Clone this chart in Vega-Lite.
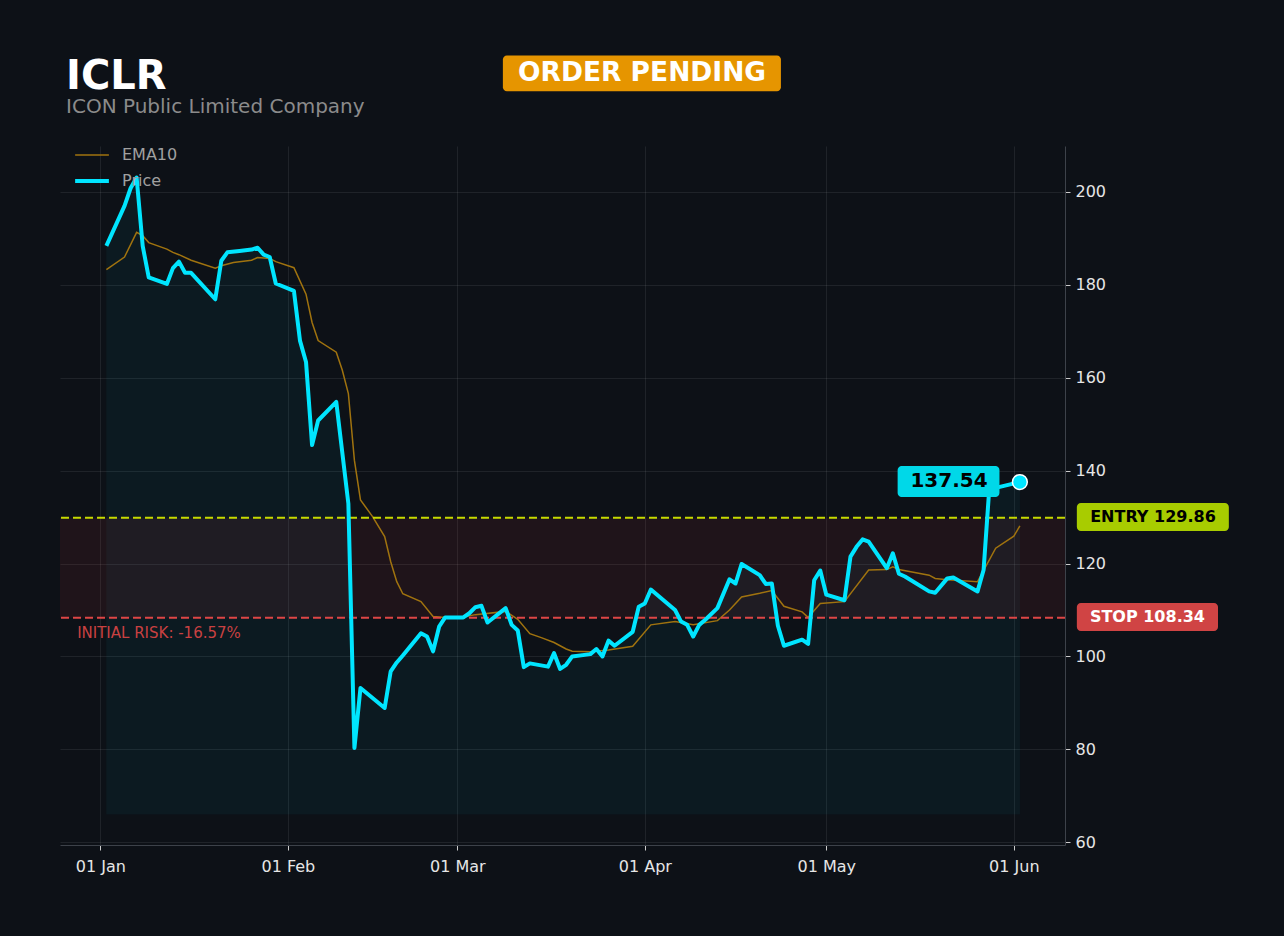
{
  "$schema": "https://vega.github.io/schema/vega-lite/v6.json",
  "width": 1005,
  "height": 699,
  "autosize": {"type": "none"},
  "padding": {"left": 60, "top": 146, "right": 219, "bottom": 91},
  "background": "#0d1117",
  "config": {
    "view": {"stroke": null},
    "font": "DejaVu Sans",
    "axis": {
      "labelFont": "DejaVu Sans",
      "labelFontSize": 16,
      "labelColor": "#e6e6e6",
      "ticks": true,
      "tickColor": "#cccccc",
      "tickSize": 5,
      "tickWidth": 1,
      "domainColor": "#3d424a",
      "grid": true,
      "gridColor": "#ffffff",
      "gridOpacity": 0.08
    }
  },
  "datasets": {
    "price": [
      {"date": "2025-01-02T00:00", "price": 188.4},
      {"date": "2025-01-05T00:00", "price": 197.0},
      {"date": "2025-01-06T00:00", "price": 200.8},
      {"date": "2025-01-07T00:00", "price": 203.1},
      {"date": "2025-01-08T00:00", "price": 188.4},
      {"date": "2025-01-09T00:00", "price": 181.6},
      {"date": "2025-01-12T00:00", "price": 180.2},
      {"date": "2025-01-13T00:00", "price": 183.6},
      {"date": "2025-01-14T00:00", "price": 185.0},
      {"date": "2025-01-15T00:00", "price": 182.6},
      {"date": "2025-01-16T00:00", "price": 182.6},
      {"date": "2025-01-20T00:00", "price": 176.9},
      {"date": "2025-01-21T00:00", "price": 185.2},
      {"date": "2025-01-22T00:00", "price": 187.0},
      {"date": "2025-01-24T00:00", "price": 187.3},
      {"date": "2025-01-26T00:00", "price": 187.6},
      {"date": "2025-01-27T00:00", "price": 188.0},
      {"date": "2025-01-28T00:00", "price": 186.5},
      {"date": "2025-01-29T00:00", "price": 186.0},
      {"date": "2025-01-30T00:00", "price": 180.3},
      {"date": "2025-02-02T00:00", "price": 178.7},
      {"date": "2025-02-03T00:00", "price": 168.0},
      {"date": "2025-02-04T00:00", "price": 163.4},
      {"date": "2025-02-05T00:00", "price": 145.5},
      {"date": "2025-02-06T00:00", "price": 150.8},
      {"date": "2025-02-09T00:00", "price": 154.8},
      {"date": "2025-02-11T00:00", "price": 132.9},
      {"date": "2025-02-12T00:00", "price": 80.3},
      {"date": "2025-02-13T00:00", "price": 93.2},
      {"date": "2025-02-17T00:00", "price": 88.9},
      {"date": "2025-02-18T00:00", "price": 96.8},
      {"date": "2025-02-19T00:00", "price": 98.7},
      {"date": "2025-02-20T00:00", "price": 100.2},
      {"date": "2025-02-23T00:00", "price": 105.0},
      {"date": "2025-02-24T00:00", "price": 104.3},
      {"date": "2025-02-25T00:00", "price": 101.1},
      {"date": "2025-02-26T00:00", "price": 106.4},
      {"date": "2025-02-27T00:00", "price": 108.4},
      {"date": "2025-03-02T00:00", "price": 108.4},
      {"date": "2025-03-03T00:00", "price": 109.3},
      {"date": "2025-03-04T00:00", "price": 110.6},
      {"date": "2025-03-05T00:00", "price": 110.9},
      {"date": "2025-03-06T00:00", "price": 107.3},
      {"date": "2025-03-09T00:00", "price": 110.4},
      {"date": "2025-03-10T00:00", "price": 106.8},
      {"date": "2025-03-11T00:00", "price": 105.6},
      {"date": "2025-03-12T00:00", "price": 97.7},
      {"date": "2025-03-13T00:00", "price": 98.5},
      {"date": "2025-03-16T00:00", "price": 97.8},
      {"date": "2025-03-17T00:00", "price": 100.7},
      {"date": "2025-03-18T00:00", "price": 97.3},
      {"date": "2025-03-19T00:00", "price": 98.2},
      {"date": "2025-03-20T00:00", "price": 100.0},
      {"date": "2025-03-23T00:00", "price": 100.5},
      {"date": "2025-03-24T00:00", "price": 101.6},
      {"date": "2025-03-25T00:00", "price": 100.0},
      {"date": "2025-03-26T00:00", "price": 103.4},
      {"date": "2025-03-27T00:00", "price": 102.3},
      {"date": "2025-03-30T00:00", "price": 105.3},
      {"date": "2025-03-31T00:00", "price": 110.7},
      {"date": "2025-04-01T00:00", "price": 111.4},
      {"date": "2025-04-02T00:00", "price": 114.4},
      {"date": "2025-04-06T00:00", "price": 110.0},
      {"date": "2025-04-07T00:00", "price": 107.5},
      {"date": "2025-04-08T00:00", "price": 106.8},
      {"date": "2025-04-09T00:00", "price": 104.3},
      {"date": "2025-04-10T00:00", "price": 106.8},
      {"date": "2025-04-11T00:00", "price": 107.9},
      {"date": "2025-04-13T00:00", "price": 110.4},
      {"date": "2025-04-15T00:00", "price": 116.6},
      {"date": "2025-04-16T00:00", "price": 115.7},
      {"date": "2025-04-17T00:00", "price": 119.9},
      {"date": "2025-04-20T00:00", "price": 117.5},
      {"date": "2025-04-21T00:00", "price": 115.6},
      {"date": "2025-04-22T00:00", "price": 115.7},
      {"date": "2025-04-23T00:00", "price": 106.6},
      {"date": "2025-04-24T00:00", "price": 102.3},
      {"date": "2025-04-27T00:00", "price": 103.6},
      {"date": "2025-04-28T00:00", "price": 102.7},
      {"date": "2025-04-29T00:00", "price": 116.4},
      {"date": "2025-04-30T00:00", "price": 118.5},
      {"date": "2025-05-01T00:00", "price": 113.3},
      {"date": "2025-05-04T00:00", "price": 112.1},
      {"date": "2025-05-05T00:00", "price": 121.5},
      {"date": "2025-05-06T00:00", "price": 123.6},
      {"date": "2025-05-07T00:00", "price": 125.2},
      {"date": "2025-05-08T00:00", "price": 124.7},
      {"date": "2025-05-11T00:00", "price": 119.0},
      {"date": "2025-05-12T00:00", "price": 122.2},
      {"date": "2025-05-13T00:00", "price": 117.8},
      {"date": "2025-05-14T00:00", "price": 117.2},
      {"date": "2025-05-18T00:00", "price": 114.0},
      {"date": "2025-05-19T00:00", "price": 113.7},
      {"date": "2025-05-21T00:00", "price": 116.8},
      {"date": "2025-05-22T00:00", "price": 117.0},
      {"date": "2025-05-26T00:00", "price": 114.0},
      {"date": "2025-05-27T00:00", "price": 118.6},
      {"date": "2025-05-28T00:00", "price": 137.2},
      {"date": "2025-05-29T00:00", "price": 136.3},
      {"date": "2025-06-02T00:00", "price": 137.54}
    ],
    "ema": [
      {"date": "2025-01-02T00:00", "ema": 183.3},
      {"date": "2025-01-05T00:00", "ema": 186.0},
      {"date": "2025-01-07T00:00", "ema": 191.3},
      {"date": "2025-01-08T00:00", "ema": 190.6},
      {"date": "2025-01-09T00:00", "ema": 189.1},
      {"date": "2025-01-12T00:00", "ema": 187.7},
      {"date": "2025-01-13T00:00", "ema": 187.0},
      {"date": "2025-01-14T00:00", "ema": 186.5},
      {"date": "2025-01-16T00:00", "ema": 185.3},
      {"date": "2025-01-20T00:00", "ema": 183.6},
      {"date": "2025-01-21T00:00", "ema": 184.1},
      {"date": "2025-01-23T00:00", "ema": 184.8},
      {"date": "2025-01-26T00:00", "ema": 185.3},
      {"date": "2025-01-27T00:00", "ema": 185.9},
      {"date": "2025-01-29T00:00", "ema": 185.7},
      {"date": "2025-01-30T00:00", "ema": 185.0},
      {"date": "2025-02-02T00:00", "ema": 183.7},
      {"date": "2025-02-04T00:00", "ema": 178.0},
      {"date": "2025-02-05T00:00", "ema": 171.9},
      {"date": "2025-02-06T00:00", "ema": 168.0},
      {"date": "2025-02-09T00:00", "ema": 165.5},
      {"date": "2025-02-10T00:00", "ema": 161.6},
      {"date": "2025-02-11T00:00", "ema": 156.6},
      {"date": "2025-02-12T00:00", "ema": 142.2},
      {"date": "2025-02-13T00:00", "ema": 133.7},
      {"date": "2025-02-15T00:00", "ema": 130.1},
      {"date": "2025-02-17T00:00", "ema": 125.8},
      {"date": "2025-02-18T00:00", "ema": 120.4},
      {"date": "2025-02-19T00:00", "ema": 116.1},
      {"date": "2025-02-20T00:00", "ema": 113.5},
      {"date": "2025-02-23T00:00", "ema": 111.8},
      {"date": "2025-02-25T00:00", "ema": 108.6},
      {"date": "2025-02-27T00:00", "ema": 108.4},
      {"date": "2025-03-02T00:00", "ema": 108.5},
      {"date": "2025-03-04T00:00", "ema": 109.0},
      {"date": "2025-03-09T00:00", "ema": 109.7},
      {"date": "2025-03-11T00:00", "ema": 108.0},
      {"date": "2025-03-13T00:00", "ema": 104.9},
      {"date": "2025-03-15T00:00", "ema": 104.0},
      {"date": "2025-03-17T00:00", "ema": 103.0},
      {"date": "2025-03-19T00:00", "ema": 101.6},
      {"date": "2025-03-20T00:00", "ema": 101.1},
      {"date": "2025-03-23T00:00", "ema": 101.0},
      {"date": "2025-03-26T00:00", "ema": 101.4},
      {"date": "2025-03-30T00:00", "ema": 102.2},
      {"date": "2025-04-02T00:00", "ema": 106.8},
      {"date": "2025-04-06T00:00", "ema": 107.5},
      {"date": "2025-04-09T00:00", "ema": 106.8},
      {"date": "2025-04-13T00:00", "ema": 107.7},
      {"date": "2025-04-15T00:00", "ema": 110.0},
      {"date": "2025-04-17T00:00", "ema": 112.8},
      {"date": "2025-04-20T00:00", "ema": 113.6},
      {"date": "2025-04-22T00:00", "ema": 114.2},
      {"date": "2025-04-24T00:00", "ema": 110.8},
      {"date": "2025-04-27T00:00", "ema": 109.6},
      {"date": "2025-04-28T00:00", "ema": 108.4},
      {"date": "2025-04-30T00:00", "ema": 111.4},
      {"date": "2025-05-04T00:00", "ema": 111.8},
      {"date": "2025-05-08T00:00", "ema": 118.6},
      {"date": "2025-05-11T00:00", "ema": 118.7},
      {"date": "2025-05-12T00:00", "ema": 119.3},
      {"date": "2025-05-13T00:00", "ema": 118.7},
      {"date": "2025-05-18T00:00", "ema": 117.5},
      {"date": "2025-05-19T00:00", "ema": 116.8},
      {"date": "2025-05-21T00:00", "ema": 116.5},
      {"date": "2025-05-26T00:00", "ema": 116.1},
      {"date": "2025-05-29T00:00", "ema": 123.3},
      {"date": "2025-06-01T00:00", "ema": 125.9},
      {"date": "2025-06-02T00:00", "ema": 128.1}
    ],
    "one": [{}]
  },
  "layer": [
    {
      "data": {"name": "price"},
      "mark": {"type": "area", "color": "#00e5ff", "opacity": 0.045, "stroke": "#00e5ff", "strokeOpacity": 0.08, "strokeWidth": 1},
      "encoding": {
        "x": {
          "field": "date",
          "type": "temporal",
          "scale": {
            "domain": [
              {"year": 2024, "month": 12, "date": 25, "hours": 8},
              {"year": 2025, "month": 6, "date": 9, "hours": 11}
            ],
            "nice": false
          },
          "axis": {
            "title": null,
            "format": "%d %b",
            "tickCount": {"interval": "month", "step": 1},
            "labelFlush": false,
            "labelPadding": 8
          }
        },
        "y": {
          "field": "price",
          "type": "quantitative",
          "scale": {"domain": [59.4, 209.9], "nice": false, "zero": false},
          "axis": {
            "title": null,
            "orient": "right",
            "values": [60, 80, 100, 120, 140, 160, 180, 200],
            "labelPadding": 5
          }
        },
        "y2": {"datum": 66}
      }
    },
    {
      "data": {"name": "one"},
      "mark": {"type": "rect", "color": "#ff3b3b", "opacity": 0.08},
      "encoding": {
        "x": {"datum": {"year": 2024, "month": 12, "date": 25, "hours": 8}, "type": "temporal"},
        "x2": {"datum": {"year": 2025, "month": 6, "date": 9, "hours": 11}},
        "y": {"datum": 129.86, "type": "quantitative"},
        "y2": {"datum": 108.34}
      }
    },
    {
      "data": {"name": "ema"},
      "mark": {"type": "line", "color": "#a0730f", "strokeWidth": 1.5},
      "encoding": {
        "x": {"field": "date", "type": "temporal"},
        "y": {"field": "ema", "type": "quantitative"}
      }
    },
    {
      "data": {"name": "one"},
      "mark": {"type": "rule", "color": "#c6da00", "strokeWidth": 2, "strokeDash": [8, 4]},
      "encoding": {"y": {"datum": 129.86, "type": "quantitative"}}
    },
    {
      "data": {"name": "one"},
      "mark": {"type": "rule", "color": "#de4646", "strokeWidth": 2, "strokeDash": [8, 4]},
      "encoding": {"y": {"datum": 108.34, "type": "quantitative"}}
    },
    {
      "data": {"name": "price"},
      "mark": {"type": "line", "color": "#00e5ff", "strokeWidth": 4, "strokeJoin": "round"},
      "encoding": {
        "x": {"field": "date", "type": "temporal"},
        "y": {"field": "price", "type": "quantitative"}
      }
    },
    {
      "data": {"name": "price"},
      "transform": [{"filter": "datum.price === 137.54"}],
      "mark": {"type": "point", "filled": true, "size": 220, "color": "#00e5ff", "stroke": "#ffffff", "strokeWidth": 1.5, "opacity": 1},
      "encoding": {
        "x": {"field": "date", "type": "temporal"},
        "y": {"field": "price", "type": "quantitative"}
      }
    },
    {
      "data": {"name": "one"},
      "mark": {"type": "rule", "color": "#a0730f", "strokeWidth": 1.5},
      "encoding": {
        "x": {"datum": {"year": 2024, "month": 12, "date": 27, "hours": 20}, "type": "temporal"},
        "x2": {"datum": {"year": 2025, "month": 1, "date": 2, "hours": 10}},
        "y": {"datum": 207.96, "type": "quantitative"}
      }
    },
    {
      "data": {"name": "one"},
      "mark": {"type": "rule", "color": "#00e5ff", "strokeWidth": 4},
      "encoding": {
        "x": {"datum": {"year": 2024, "month": 12, "date": 27, "hours": 20}, "type": "temporal"},
        "x2": {"datum": {"year": 2025, "month": 1, "date": 2, "hours": 10}},
        "y": {"datum": 202.37, "type": "quantitative"}
      }
    },
    {
      "data": {"name": "one"},
      "mark": {"type": "text", "text": "EMA10", "font": "DejaVu Sans", "fontSize": 16, "color": "#a0a0a0", "align": "left", "baseline": "middle"},
      "encoding": {
        "x": {"datum": {"year": 2025, "month": 1, "date": 4, "hours": 14}, "type": "temporal"},
        "y": {"datum": 207.96, "type": "quantitative"}
      }
    },
    {
      "data": {"name": "one"},
      "mark": {"type": "text", "text": "Price", "font": "DejaVu Sans", "fontSize": 16, "color": "#a0a0a0", "align": "left", "baseline": "middle"},
      "encoding": {
        "x": {"datum": {"year": 2025, "month": 1, "date": 4, "hours": 14}, "type": "temporal"},
        "y": {"datum": 202.37, "type": "quantitative"}
      }
    },
    {
      "data": {"name": "one"},
      "mark": {"type": "rect", "color": "#00d8e8", "cornerRadius": 4},
      "encoding": {
        "x": {"datum": {"year": 2025, "month": 5, "date": 12, "hours": 19}, "type": "temporal"},
        "x2": {"datum": {"year": 2025, "month": 5, "date": 29, "hours": 15}},
        "y": {"datum": 141.0, "type": "quantitative"},
        "y2": {"datum": 134.34}
      }
    },
    {
      "data": {"name": "one"},
      "mark": {"type": "text", "text": "137.54", "font": "DejaVu Sans", "fontSize": 20, "fontWeight": "bold", "color": "#000000", "align": "center", "baseline": "middle"},
      "encoding": {
        "x": {"datum": {"year": 2025, "month": 5, "date": 21, "hours": 7}, "type": "temporal"},
        "y": {"datum": 137.68, "type": "quantitative"}
      }
    },
    {
      "data": {"name": "one"},
      "mark": {"type": "text", "text": "INITIAL RISK: -16.57%", "font": "DejaVu Sans", "fontSize": 15, "color": "#c94141", "align": "left", "baseline": "middle"},
      "encoding": {
        "x": {"datum": {"year": 2024, "month": 12, "date": 28, "hours": 4}, "type": "temporal"},
        "y": {"datum": 105.06, "type": "quantitative"}
      }
    },
    {
      "data": {"name": "one"},
      "mark": {"type": "rect", "color": "#a8cc00", "cornerRadius": 4},
      "encoding": {
        "x": {"datum": {"year": 2025, "month": 6, "date": 11, "hours": 10}, "type": "temporal"},
        "x2": {"datum": {"year": 2025, "month": 7, "date": 6, "hours": 13}},
        "y": {"datum": 133.05, "type": "quantitative"},
        "y2": {"datum": 127.02}
      }
    },
    {
      "data": {"name": "one"},
      "mark": {"type": "text", "text": "ENTRY 129.86", "font": "DejaVu Sans", "fontSize": 16, "fontWeight": "bold", "color": "#000000", "align": "center", "baseline": "middle"},
      "encoding": {
        "x": {"datum": {"year": 2025, "month": 6, "date": 24, "hours": 0}, "type": "temporal"},
        "y": {"datum": 130.0, "type": "quantitative"}
      }
    },
    {
      "data": {"name": "one"},
      "mark": {"type": "rect", "color": "#d04444", "cornerRadius": 4},
      "encoding": {
        "x": {"datum": {"year": 2025, "month": 6, "date": 11, "hours": 10}, "type": "temporal"},
        "x2": {"datum": {"year": 2025, "month": 7, "date": 4, "hours": 18}},
        "y": {"datum": 111.52, "type": "quantitative"},
        "y2": {"datum": 105.49}
      }
    },
    {
      "data": {"name": "one"},
      "mark": {"type": "text", "text": "STOP 108.34", "font": "DejaVu Sans", "fontSize": 16, "fontWeight": "bold", "color": "#ffffff", "align": "center", "baseline": "middle"},
      "encoding": {
        "x": {"datum": {"year": 2025, "month": 6, "date": 23, "hours": 2}, "type": "temporal"},
        "y": {"datum": 108.5, "type": "quantitative"}
      }
    },
    {
      "data": {"name": "one"},
      "mark": {"type": "rect", "color": "#e69500", "cornerRadius": 4},
      "encoding": {
        "x": {"datum": {"year": 2025, "month": 3, "date": 8, "hours": 13}, "type": "temporal"},
        "x2": {"datum": {"year": 2025, "month": 4, "date": 23, "hours": 12}},
        "y": {"datum": 229.4, "type": "quantitative"},
        "y2": {"datum": 221.7}
      }
    },
    {
      "data": {"name": "one"},
      "mark": {"type": "text", "text": "ORDER PENDING", "font": "DejaVu Sans", "fontSize": 26.5, "fontWeight": "bold", "color": "#ffffff", "align": "center", "baseline": "middle"},
      "encoding": {
        "x": {"datum": {"year": 2025, "month": 3, "date": 31, "hours": 13}, "type": "temporal"},
        "y": {"datum": 225.6, "type": "quantitative"}
      }
    },
    {
      "data": {"name": "one"},
      "mark": {"type": "text", "text": "ICLR", "font": "DejaVu Sans", "fontSize": 40, "fontWeight": "bold", "color": "#ffffff", "align": "left", "baseline": "alphabetic"},
      "encoding": {
        "x": {"datum": {"year": 2024, "month": 12, "date": 26, "hours": 8}, "type": "temporal"},
        "y": {"datum": 222.1, "type": "quantitative"}
      }
    },
    {
      "data": {"name": "one"},
      "mark": {"type": "text", "text": "ICON Public Limited Company", "font": "DejaVu Sans", "fontSize": 20, "color": "#8b8b8b", "align": "left", "baseline": "alphabetic"},
      "encoding": {
        "x": {"datum": {"year": 2024, "month": 12, "date": 26, "hours": 8}, "type": "temporal"},
        "y": {"datum": 216.94, "type": "quantitative"}
      }
    }
  ]
}
